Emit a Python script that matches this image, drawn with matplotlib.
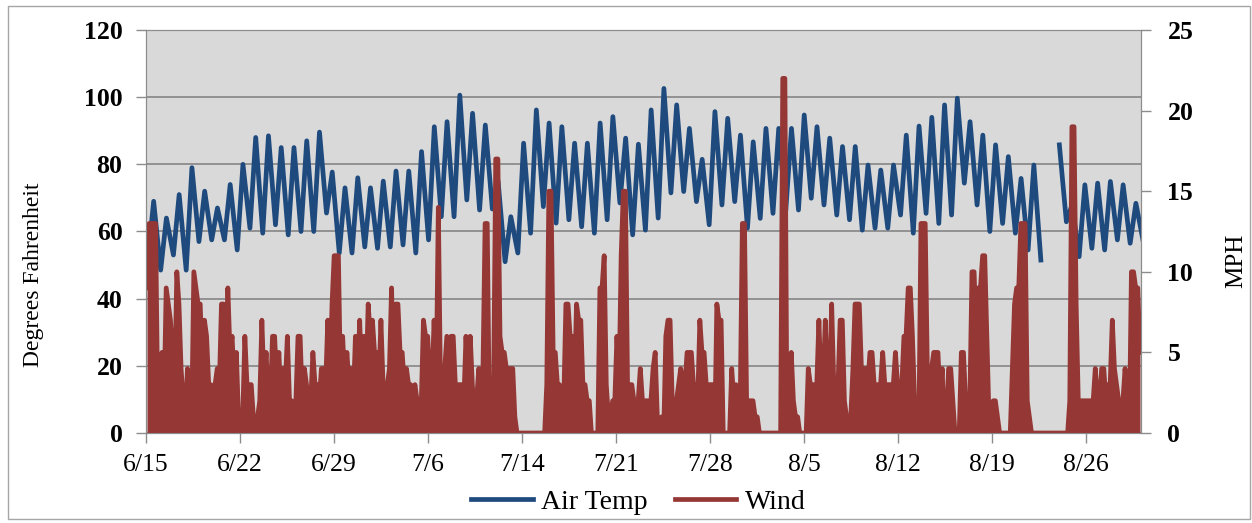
import matplotlib
matplotlib.use("Agg")
import matplotlib.pyplot as plt
import numpy as np

plt.rcParams['font.family'] = ['Liberation Serif', 'DejaVu Serif']

# daily lows / highs (deg F), day 0 = 6/15
temp_lows = [52, 48.5, 53, 48.5, 57, 57.5, 57.5, 54.5, 61, 59.5,
             62, 59, 60, 60, 65.5, 53.6, 53.6, 55.4, 55, 55.4,
             56, 53.6, 57.5, 64.4, 64.4, 69.4, 66.4, 66.7, 51, 53.6,
             59.5, 67.4, 62.5, 63.5, 61.4, 59.5, 63.5, 68.5, 59, 60.4,
             64, 71.5, 71.9, 68.9, 62, 67.9, 68.9, 61, 63.9, 65.4,
             66, 66.4, 69.9, 67.9, 64.9, 63.5, 60.4, 61, 61, 64.9,
             59.5, 65.4, 62.4, 64.9, 74.4, 67.9, 60, 62.4, 59.5, 54.5,
             51.5, np.nan, 62.9, 52.5, 55, 54.5, 57.5, 56.5, 57.5]
temp_highs = [69, 64, 71, 79, 72, 67, 74, 80, 88, 88.5,
              85, 85, 87, 89.6, 77.7, 73, 76, 73, 75, 78,
              78, 83.8, 91.2, 92.7, 100.6, 95.2, 91.7, 75, 64.4, 86.3,
              96.2, 92.3, 91.2, 86.3, 86.3, 92.3, 94.2, 87.8, 86, 96.2,
              102.6, 97.7, 90.7, 81.5, 95.7, 93.7, 88.7, 86.7, 90.7, 90.7,
              90.7, 94.7, 91.2, 87.8, 85.3, 85.3, 79.8, 78.3, 79.8, 88.7,
              91.4, 94, 97.7, 99.7, 92.7, 88.7, 85.8, 82.3, 75.8, 79.8,
              np.nan, 85.8, 68, 73.9, 74.4, 74.9, 73.9, 68.4]

# wind (mph), six readings per day (every 4 hours)
wind_rows = [
    [9, 13, 13, 13, 13, 2], [2, 5, 2, 9, 8, 7], [5, 3, 10, 8, 4, 2],
    [1, 4, 2, 1, 10, 9], [8, 8, 4, 7, 6, 3], [3, 2, 3, 4, 3, 8],
    [8, 3, 9, 5, 6, 3], [5, 1, 0, 1, 6, 3], [3, 3, 1, 1, 1, 2],
    [7, 3, 5, 2, 2, 6], [6, 3, 5, 2, 4, 3], [6, 2, 2, 1, 2, 6],
    [6, 2, 4, 3, 1, 2], [5, 3, 3, 2, 4, 4], [3, 7, 3, 8, 11, 11],
    [11, 3, 6, 3, 5, 3], [4, 2, 6, 3, 7, 3], [6, 3, 8, 6, 7, 5],
    [5, 3, 7, 3, 2, 3], [4, 9, 3, 8, 8, 5], [5, 3, 4, 3, 3, 2],
    [3, 2, 2, 2, 7, 6], [6, 3, 3, 7, 3, 14], [3, 2, 4, 6, 3, 6],
    [6, 3, 3, 3, 3, 2], [6, 3, 6, 3, 1, 2], [4, 3, 4, 13, 13, 1],
    [1, 3, 17, 17, 6, 5], [5, 4, 4, 4, 4, 1], [0, 0, 0, 0, 0, 0],
    [0, 0, 0, 0, 0, 0], [0, 0, 3, 15, 15, 5], [5, 3, 3, 2, 2, 8],
    [8, 6, 6, 3, 8, 7], [7, 3, 3, 2, 2, 0], [0, 0, 0, 9, 9, 11],
    [3, 1, 1, 2, 2, 6], [3, 11, 15, 15, 3, 3], [3, 2, 2, 2, 4, 2],
    [2, 2, 2, 2, 4, 5], [1, 0, 1, 0, 6, 7], [7, 2, 2, 2, 3, 4],
    [3, 3, 5, 5, 5, 3], [3, 2, 7, 5, 5, 3], [3, 3, 3, 0, 8, 7],
    [7, 0, 0, 0, 0, 4], [2, 3, 1, 2, 13, 13], [2, 2, 2, 2, 1, 1],
    [0, 0, 0, 0, 0, 0], [0, 0, 0, 0, 0, 22], [22, 0, 1, 5, 2, 1],
    [1, 0, 0, 0, 0, 4], [3, 3, 3, 3, 7, 3], [3, 7, 3, 3, 8, 3],
    [3, 3, 7, 7, 2, 1], [0, 1, 4, 8, 8, 8], [4, 4, 4, 3, 5, 5],
    [3, 3, 3, 3, 5, 3], [3, 3, 3, 3, 5, 3], [3, 3, 6, 6, 9, 9],
    [6, 2, 0, 0, 13, 13], [13, 4, 4, 4, 5, 5], [5, 2, 4, 0, 1, 4],
    [4, 2, 0, 0, 0, 5], [5, 2, 2, 2, 10, 10], [6, 9, 9, 11, 11, 6],
    [1, 1, 2, 2, 1, 0], [0, 0, 0, 0, 0, 4], [8, 9, 9, 13, 13, 13],
    [2, 1, 0, 0, 0, 0], [0, 0, 0, 0, 0, 0], [0, 0, 0, 0, 0, 0],
    [0, 0, 2, 19, 19, 8], [2, 2, 2, 2, 2, 2], [2, 2, 4, 2, 2, 4],
    [4, 2, 3, 3, 7, 4], [3, 2, 2, 2, 4, 2], [0, 10, 10, 9, 9, 5],
]

tick_labels = ['6/15', '6/22', '6/29', '7/6', '7/14', '7/21',
               '7/28', '8/5', '8/12', '8/19', '8/26']

blue = '#1f4a7e'
red = '#953735'
grid_col = '#8c8c8c'

# temperature trace: low early morning, high in the afternoon
temp_x, temp_y = [], []
for d in range(len(temp_lows)):
    temp_x.append(d + 0.15)
    temp_y.append(temp_lows[d])
    if d < len(temp_highs):
        temp_x.append(d + 0.6)
        temp_y.append(temp_highs[d])

wind = np.array(wind_rows, dtype=float)
n_days, per_day = wind.shape
wind_x = (np.arange(n_days)[:, None] + (np.arange(per_day)[None, :] + 0.5) / per_day).ravel()
wind_y = wind.ravel()

fig = plt.figure(figsize=(12.52, 5.23), dpi=100)
fig.patches.append(plt.Rectangle((8 / 1252, 4 / 523), 1242 / 1252, 513 / 523,
                                 transform=fig.transFigure, fill=False,
                                 edgecolor='#a6a6a6', lw=1))

ax = fig.add_axes([146 / 1252, 90 / 523, 995 / 1252, 403 / 523])
ax.set_facecolor('#d9d9d9')
l1, = ax.plot(temp_x, temp_y, color=blue, lw=3.4, label='Air Temp')
ax.set_ylim(0, 120)
ax.set_yticks(range(0, 121, 20))
ax.set_xlim(0, 78)
tick_step = 7.37
ax.set_xticks(np.arange(len(tick_labels)) * tick_step)
ax.set_xticklabels(tick_labels)
ax.yaxis.grid(True, color=grid_col, lw=1.3)
ax.set_axisbelow(True)

ax2 = ax.twinx()
# the hourly wind trace is so dense it reads as a solid band
ax2.fill_between(wind_x, 0, wind_y, color=red, lw=0)
l2, = ax2.plot(wind_x, wind_y, color=red, lw=3.4, label='Wind')
ax2.set_ylim(0, 25)
ax2.set_yticks(range(0, 26, 5))

for a in (ax, ax2):
    for s in a.spines.values():
        s.set_color(grid_col)
    a.tick_params(axis='y', length=7, width=1, color=grid_col, pad=10, labelsize=18.5)
    plt.setp(a.get_yticklabels(), fontweight='bold')
ax.tick_params(axis='x', length=7, width=1, color=grid_col, pad=8, labelsize=18.5)
ax2.tick_params(axis='y', pad=12)

fig.text(34 / 1252, 1 - 275 / 523, 'Degrees Fahrenheit', rotation=90,
         ha='center', va='center', fontsize=17)
fig.text(1236 / 1252, 1 - 261 / 523, 'MPH', rotation=90,
         ha='center', va='center', fontsize=18)

fig.legend([l1, l2], ['Air Temp', 'Wind'], loc='center',
           bbox_to_anchor=(0.51, 0.04), ncol=2, frameon=False, fontsize=20,
           handlelength=2.2, handletextpad=0.3, columnspacing=1.0)

fig.savefig('out.png', dpi=100)
